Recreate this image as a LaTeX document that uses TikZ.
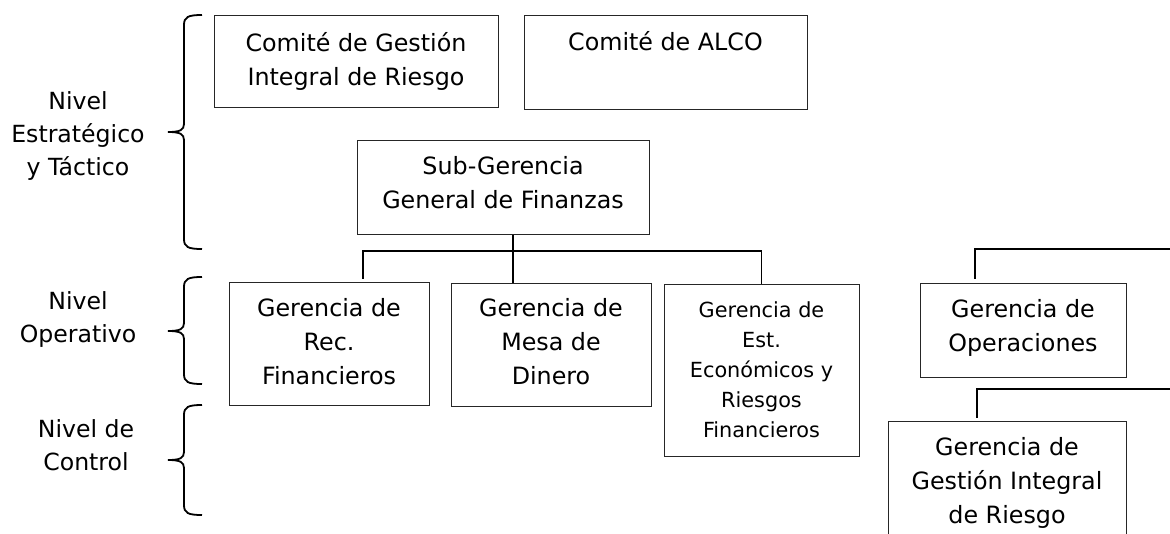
\documentclass[tikz,border=0pt]{standalone}
\usepackage{fontspec}
\setmainfont{DejaVu Sans}
\tikzset{
  box/.style={draw=black!85, line width=1pt, rectangle, inner sep=0pt},
  btxt/.style={anchor=north, align=center, inner sep=0pt, font=\fontsize{23.8}{34}\selectfont},
  stxt/.style={anchor=north, align=center, inner sep=0pt, font=\fontsize{20.8}{30}\selectfont},
  ltxt/.style={anchor=north, align=center, inner sep=0pt, font=\fontsize{23.6}{33}\selectfont},
  conn/.style={line width=1.9pt, black},
  brc/.style={line width=1.8pt, black},
}
\newcommand\lvlbrc[3]{%
  \draw[brc] (202,#1) .. controls (188,#1) and (184,#1+2) .. (184,#1+10) -- (184,#2-8)
     .. controls (184,#2-2) and (180,#2) .. (168,#2);
  \draw[brc] (168,#2) .. controls (180,#2) and (184,#2+2) .. (184,#2+8) -- (184,#3-10)
     .. controls (184,#3-2) and (188,#3) .. (202,#3);
}
\begin{document}
\begin{tikzpicture}[x=1pt,y=-1pt]
\clip (0,0) rectangle (1170,533);
\fill[white] (0,0) rectangle (1170,533);
% boxes
\node[box, minimum width=284pt, minimum height=92pt] (b1) at (356,61) {};
\node[box, minimum width=283pt, minimum height=94pt] (b2) at (665.5,62) {};
\node[box, minimum width=292pt, minimum height=94pt] (sub) at (503,187) {};
\node[box, minimum width=200pt, minimum height=123pt] (rec) at (329,343.5) {};
\node[box, minimum width=200pt, minimum height=123pt] (mesa) at (551,344.5) {};
\node[box, minimum width=195pt, minimum height=172pt] (est) at (761.5,370) {};
\node[box, minimum width=206pt, minimum height=94pt] (ops) at (1023,330) {};
\node[box, minimum width=238pt, minimum height=139pt] (gir) at (1007,490.5) {};
% texts
\node[btxt] (t1) at (356,27) {\strut Comité de Gestión\\Integral de Riesgo};
\node[btxt] (t2) at (665.5,26) {\strut Comité de ALCO};
\node[btxt] (tsub) at (503,150) {\strut Sub-Gerencia\\General de Finanzas};
\node[btxt] (trec) at (329,292) {\strut Gerencia de\\Rec.\\Financieros};
\node[btxt] (tmesa) at (551,292) {\strut Gerencia de\\Mesa de\\Dinero};
\node[stxt] (test) at (761.5,296) {\strut Gerencia de\\Est.\\Económicos y\\Riesgos\\Financieros};
\node[btxt] (tops) at (1023,293) {\strut Gerencia de\\Operaciones};
\node[btxt] (tgir) at (1007,431) {\strut Gerencia de\\Gestión Integral\\de Riesgo};
% level labels
\node[ltxt] (l1) at (78,86) {\strut Nivel\\Estratégico\\y Táctico};
\node[ltxt] (l2) at (78,286) {\strut Nivel\\Operativo};
\node[ltxt] (l3) at (86,414) {\strut Nivel de\\Control};
% braces
\lvlbrc{15}{132}{249}
\lvlbrc{277}{331}{384}
\lvlbrc{405}{460}{515}
% connectors
\coordinate (hub) at (513,251);
\coordinate (rl) at (363,251);
\draw[conn] (hub |- sub.south) -- (hub |- mesa.north);
\draw[conn, shorten <=3pt] (rl |- rec.north) -- (rl) -- (est.north |- rl) -- (est.north);
\coordinate (oj) at (975,249);
\coordinate (oe) at (1172,249);
\draw[conn, shorten <=4pt] (oj |- ops.north) -- (oj) -- (oe);
\coordinate (gj) at (977,389);
\coordinate (ge) at (1172,389);
\draw[conn, shorten <=3pt] (gj |- gir.north) -- (gj) -- (ge);
\end{tikzpicture}
\end{document}
